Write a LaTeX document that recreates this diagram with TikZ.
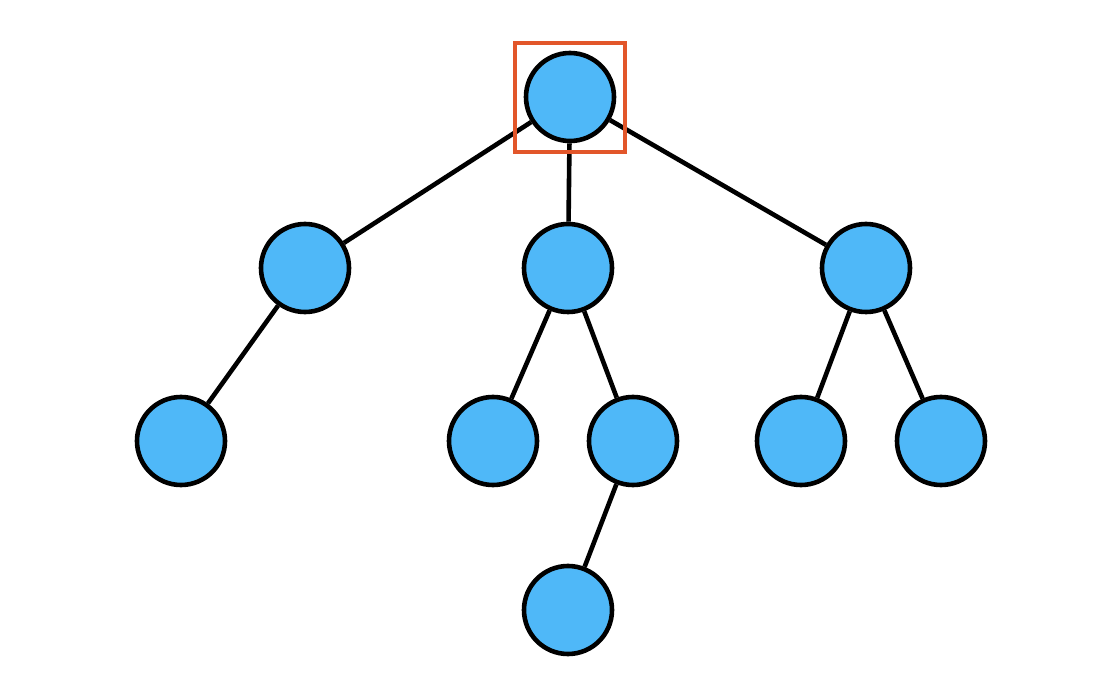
\documentclass[tikz,border=0pt]{standalone}
\definecolor{nodeblue}{HTML}{4FB8F8}
\definecolor{hilite}{HTML}{E2562A}
\begin{document}
\begin{tikzpicture}[x=1pt,y=-1pt,
  tnode/.style={circle,draw=black,line width=4.6pt,fill=nodeblue,minimum size=88pt,inner sep=0pt},
  edge/.style={draw=black,line width=4.6pt},
  hbox/.style={draw=hilite,line width=4.4pt}]
\useasboundingbox (0,0) rectangle (1120,700);
\node[tnode] (r) at (570,97) {};
\node[tnode] (a) at (305,268) {};
\node[tnode] (b) at (568,268) {};
\node[tnode] (c) at (866,268) {};
\node[tnode] (a1) at (181,441) {};
\node[tnode] (b1) at (493,441) {};
\node[tnode] (b2) at (633,441) {};
\node[tnode] (c1) at (801,441) {};
\node[tnode] (c2) at (941,441) {};
\node[tnode] (b2a) at (568,610) {};
\draw[edge] (r) -- (a);
\draw[edge] (r) -- (b);
\draw[edge] (r) -- (c);
\draw[edge] (a) -- (a1);
\draw[edge] (b) -- (b1);
\draw[edge] (b) -- (b2);
\draw[edge] (c) -- (c1);
\draw[edge] (c) -- (c2);
\draw[edge] (b2) -- (b2a);
\coordinate (hb1) at (515,43);
\coordinate (hb2) at (625,152);
\draw[hbox] (hb1) rectangle (hb2);
\end{tikzpicture}
\end{document}
